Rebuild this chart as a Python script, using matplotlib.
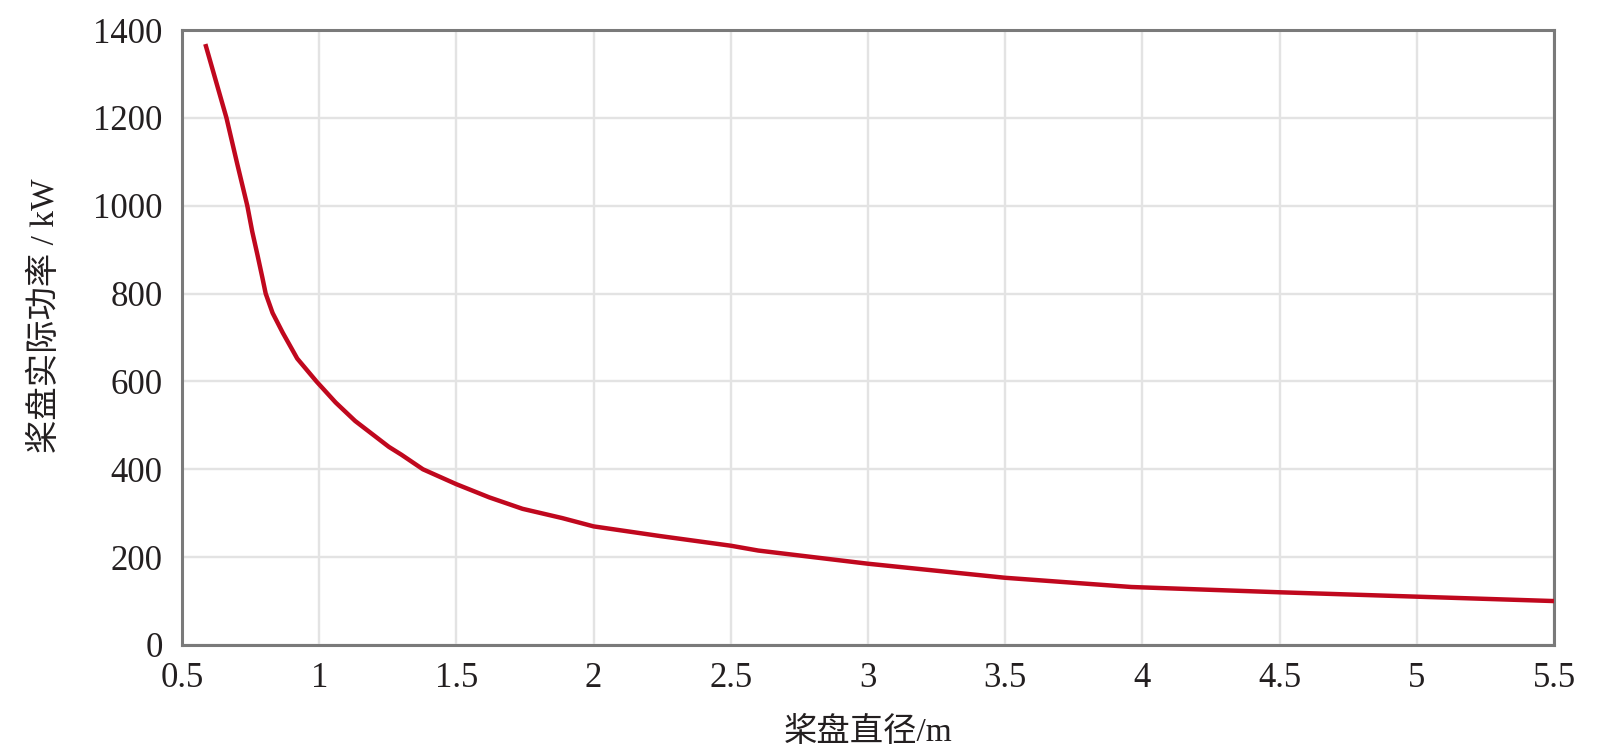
#!/usr/bin/env python3
"""
Rotor (paddle disc) diameter vs actual power curve
"""

import matplotlib
matplotlib.use('Agg')
import matplotlib.pyplot as plt

# Values
diameter_m = [0.585, 0.662, 0.701, 0.738, 0.756, 0.775, 0.793, 0.805, 0.83, 0.867,
              0.92, 0.99, 1.06, 1.131, 1.254, 1.30, 1.378, 1.5, 1.62, 1.741,
              1.885, 2.0, 2.242, 2.5, 2.6, 3.0, 3.5, 3.96, 4.5, 5.0, 5.5]
power_kw = [1368, 1200, 1096, 1000, 941, 888, 836, 800, 756, 711,
            652, 600, 552, 510, 451, 433, 400, 366, 336, 310,
            289, 270, 248, 226, 215, 185, 153, 132, 120, 110, 100]

x_ticks = [0.5, 1, 1.5, 2, 2.5, 3, 3.5, 4, 4.5, 5, 5.5]
x_tick_labels = ['0.5', '1', '1.5', '2', '2.5', '3', '3.5', '4', '4.5', '5', '5.5']
y_ticks = [0, 200, 400, 600, 800, 1000, 1200, 1400]

x_label = '桨盘直径/m'
y_label = '桨盘实际功率 / kW'

plt.rcParams['font.family'] = ['Liberation Serif', 'Noto Sans CJK SC']
text_color = '#231f20'

fig = plt.figure(figsize=(16, 7.52), dpi=100)
ax = fig.add_axes([0.11375, 0.1423, 0.8575, 0.8178])

ax.plot(diameter_m, power_kw, color='#c0081e', linewidth=3.2,
        solid_joinstyle='round', solid_capstyle='butt', zorder=3)

ax.set_xlim(0.5, 5.5)
ax.set_ylim(0, 1400)
ax.set_xticks(x_ticks)
ax.set_xticklabels(x_tick_labels)
ax.set_yticks(y_ticks)

ax.grid(True, color='#e3e3e3', linewidth=1.7)
ax.set_axisbelow(True)

for side in ['left', 'right', 'top', 'bottom']:
    ax.spines[side].set_color('#7a7a7a')
    ax.spines[side].set_linewidth(2.2)

ax.tick_params(axis='both', length=0, labelsize=25, colors=text_color)
ax.tick_params(axis='x', pad=12)
ax.tick_params(axis='y', pad=14)

ax.set_xlabel(x_label, fontsize=24, color=text_color, labelpad=16)
ax.set_ylabel(y_label, fontsize=24, color=text_color)
ax.yaxis.set_label_coords(-0.088, 0.535)

fig.savefig('out.png', dpi=100)
